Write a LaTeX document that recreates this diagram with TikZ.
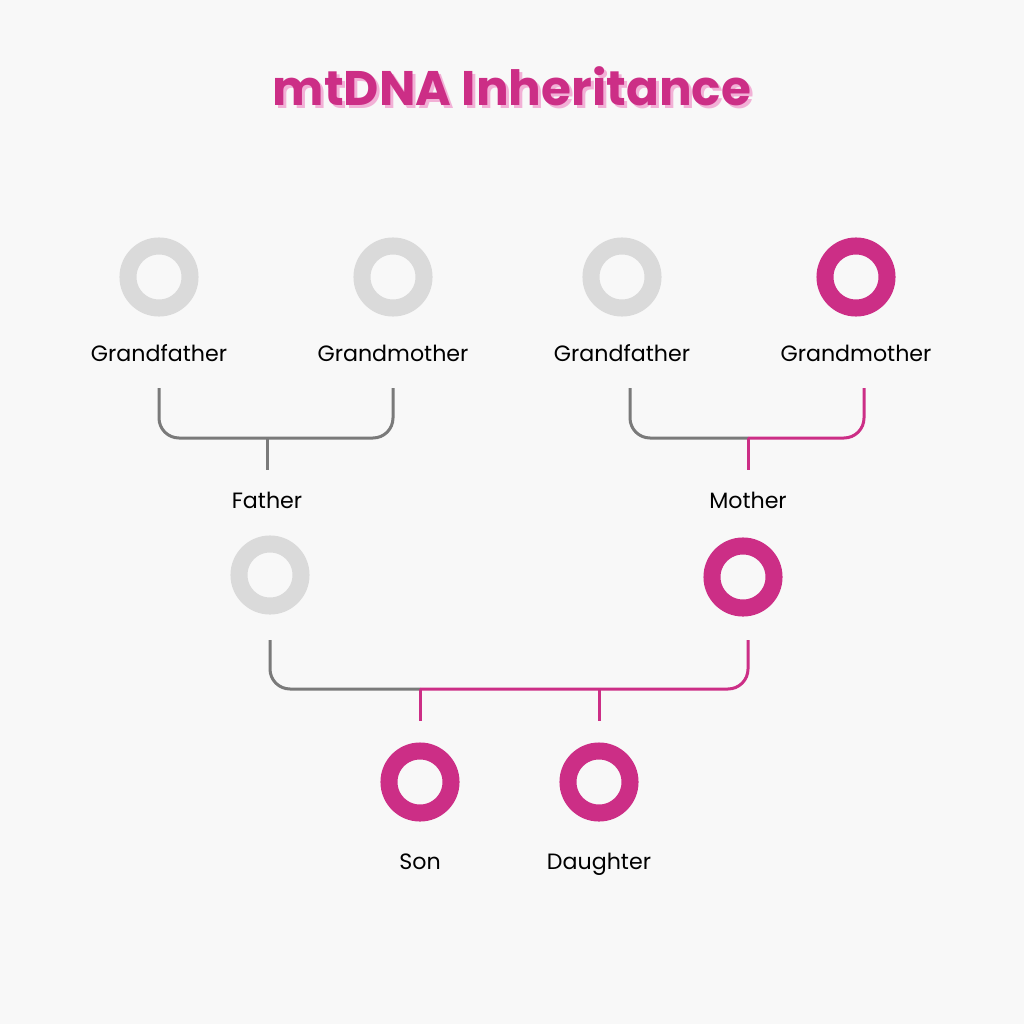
\documentclass[tikz,border=0pt]{standalone}
\usepackage{fontspec}
\setmainfont{Poppins}
\usetikzlibrary{positioning}
\definecolor{paper}{RGB}{248,248,248}
\definecolor{mtpink}{RGB}{204,46,134}
\definecolor{shade}{RGB}{242,176,214}
\definecolor{pale}{RGB}{218,218,218}
\definecolor{wire}{RGB}{122,122,122}

\begin{document}
\begin{tikzpicture}[x=0.01cm,y=-0.01cm,
  ring/.style={circle,draw=pale,line width=0.17cm,minimum size=0.62cm,inner sep=0pt},
  hot/.style={draw=mtpink},
  who/.style={font=\fontsize{6.3}{8}\selectfont,text=black,text height=0.75em,text depth=0.22em},
  heading/.style={font=\bfseries\fontsize{13.8}{16}\selectfont},
  grayline/.style={draw=wire,line width=0.03cm,rounded corners=0.2cm},
  pinkline/.style={draw=mtpink,line width=0.03cm,rounded corners=0.2cm}]
\fill[paper] (0,0) rectangle (1024,1024);

% title with soft shadow
\node[heading,text=shade] at (515,89) {mtDNA Inheritance};
\node[heading,text=mtpink] (title) at (512,86) {mtDNA Inheritance};

% grandparents
\node[ring] (gf1) at (159,277) {};
\node[ring] (gm1) at (393,277) {};
\node[ring] (gf2) at (622,277) {};
\node[ring,hot] (gm2) at (856,277) {};
\node[who] (gf1t) at (159,352) {Grandfather};
\node[who] (gm1t) at (393,352) {Grandmother};
\node[who] (gf2t) at (622,352) {Grandfather};
\node[who] (gm2t) at (856,352) {Grandmother};

% parents
\node[who] (fat) at (267,499) {Father};
\node[who] (mot) at (748,499) {Mother};
\node[ring] (fa) at (270,575) {};
\node[ring,hot] (mo) at (743,577) {};

% children
\node[ring,hot] (son) at (420,782) {};
\node[ring,hot] (dau) at (599,782) {};
\node[who] (sont) at (420,860) {Son};
\node[who] (daut) at (599,860) {Daughter};

% brackets
\coordinate (top1) at (267,438);
\coordinate (top2) at (748,438);
\coordinate (mid) at (420,689);

\draw[grayline] ([yshift=-0.36cm]gf1t.center) |- (top1)
  -| ([yshift=-0.36cm]gm1t.center);
\draw[grayline] (top1) -- ([yshift=0.29cm]fat.center);

\draw[grayline] ([shift={(0.08cm,-0.36cm)}]gf2t.center) |- (top2);
\draw[pinkline] (top2) -| ([shift={(0.08cm,-0.36cm)}]gm2t.center);
\draw[pinkline] (top2) -- ([yshift=0.29cm]mot.center);

\draw[grayline] ([yshift=-0.65cm]fa.center) |- (mid);
\draw[pinkline] (mid) -| ([shift={(0.05cm,-0.63cm)}]mo.center);
\draw[pinkline] (mid) -- ([yshift=0.61cm]son.center);
\draw[pinkline] (dau |- mid) -- ([yshift=0.61cm]dau.center);
\end{tikzpicture}
\end{document}
